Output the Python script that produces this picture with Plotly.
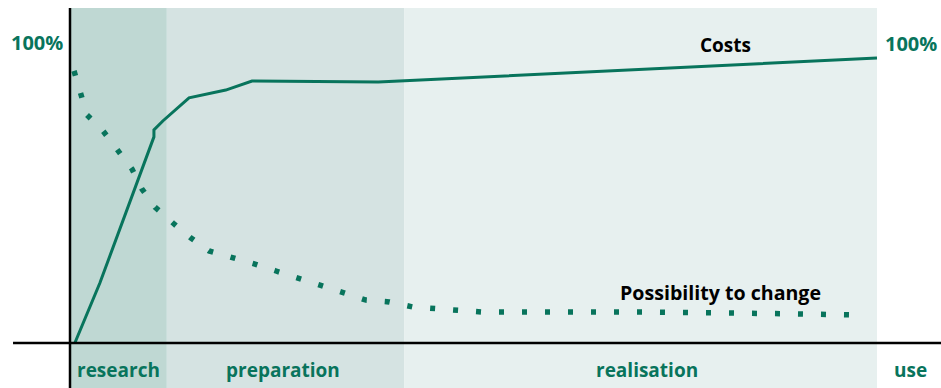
import plotly.graph_objects as go

# ---- data (time in % of project life, value in %) ----
phases = ["research", "preparation", "realisation", "use"]
phase_start = [0, 12.0, 41.4, 100.0]
phase_end = [12.0, 41.4, 100.0, 108.0]
phase_colors = ["#bfd8d3", "#d5e3e2", "#e7f0ef", "#ffffff"]

cost_t = [0.6, 3.7, 10.4, 10.4, 11.5, 14.75, 19.3, 22.55, 38.2, 100.0]
cost_v = [0.0, 20.0, 68.7, 71.0, 74.0, 81.7, 84.3, 87.3, 87.0, 95.0]

change_t = [0.5, 1.24, 2.11, 4.09, 5.95, 7.68, 8.92, 10.53, 12.76, 14.99, 17.22,
            20.07, 22.92, 25.53, 28.38, 30.98, 33.95, 36.68, 39.53, 42.5, 51.18,
            71.87, 90.46, 98.4]
change_v = [90.7, 83.3, 76.0, 70.7, 64.3, 58.0, 51.3, 45.3, 40.0, 35.0, 30.7,
            28.7, 26.3, 24.0, 21.7, 19.3, 16.7, 14.3, 13.7, 12.0, 10.3,
            10.3, 9.7, 9.3]

GREEN = "#08745c"
FONT = "Open Sans, sans-serif"

X0, X1 = -8.674, 107.93
Y0, Y1 = -15.0, 114.33
TOP = 111.67

fig = go.Figure()

fig.add_trace(go.Scatter(x=cost_t, y=cost_v, mode="lines",
                         line=dict(color=GREEN, width=3), hoverinfo="skip"))
fig.add_trace(go.Scatter(x=change_t, y=change_v, mode="lines",
                         line=dict(color=GREEN, width=5.5, dash="5px,18px"),
                         hoverinfo="skip"))

shapes = []
for s, e, c in zip(phase_start, phase_end, phase_colors):
    shapes.append(dict(type="rect", xref="x", yref="y", x0=s, x1=e, y0=Y0, y1=TOP,
                       fillcolor=c, line=dict(width=0), layer="below"))
shapes.append(dict(type="line", xref="x", yref="y", x0=0, x1=0, y0=Y0, y1=TOP,
                   line=dict(color="black", width=2.5)))
shapes.append(dict(type="line", xref="x", yref="y", x0=-7.06, x1=X1, y0=0, y1=0,
                   line=dict(color="black", width=2.5)))

label_x = [6.0, 26.4, 71.5, 104.2]
annotations = []
for xc, name in zip(label_x, phases):
    annotations.append(dict(x=xc, y=-9.0, text=name, showarrow=False,
                            xanchor="center", yanchor="middle",
                            font=dict(family=FONT, size=19, color=GREEN, weight="bold")))
annotations.append(dict(x=-4.15, y=100, text="100%", showarrow=False,
                        xanchor="center", yanchor="middle",
                        font=dict(family=FONT, size=20, color=GREEN, weight="bold")))
annotations.append(dict(x=104.2, y=99.7, text="100%", showarrow=False,
                        xanchor="center", yanchor="middle",
                        font=dict(family=FONT, size=20, color=GREEN, weight="bold")))
annotations.append(dict(x=81.2, y=99.3, text="Costs", showarrow=False,
                        xanchor="center", yanchor="middle",
                        font=dict(family=FONT, size=19, color="black", weight="bold")))
annotations.append(dict(x=80.6, y=17.0, text="Possibility to change", showarrow=False,
                        xanchor="center", yanchor="middle",
                        font=dict(family=FONT, size=19.6, color="black", weight="bold")))

fig.update_layout(
    width=941, height=388,
    margin=dict(l=0, r=0, t=0, b=0),
    paper_bgcolor="white", plot_bgcolor="white",
    showlegend=False,
    xaxis=dict(range=[X0, X1], visible=False, fixedrange=True),
    yaxis=dict(range=[Y0, Y1], visible=False, fixedrange=True),
    shapes=shapes, annotations=annotations,
)

fig.write_html("out.html")
